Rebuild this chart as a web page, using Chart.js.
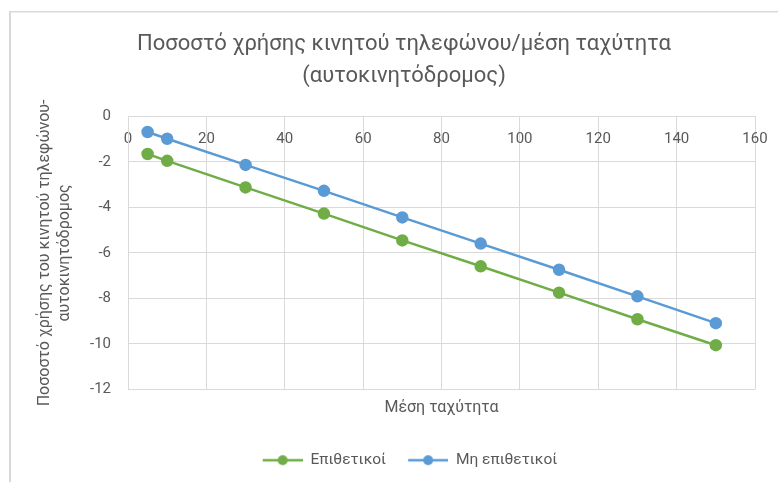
<!DOCTYPE html>
<html>
<head>
<meta charset="utf-8">
<script src="https://cdn.jsdelivr.net/npm/chart.js@4"></script>
<style>
html, body { margin: 0; padding: 0; background: #fff; overflow: hidden; }
#wrap { width: 778px; height: 482px; position: relative; }
</style>
</head>
<body>
<div id="wrap"><canvas id="myChart" width="778" height="482"></canvas></div>
<script>
// data
var speeds = [5, 10, 30, 50, 70, 90, 110, 130, 150];
var aggressive = [-1.65, -1.95, -3.12, -4.27, -5.45, -6.59, -7.75, -8.92, -10.06];
var nonAggressive = [-0.68, -0.98, -2.13, -3.27, -4.44, -5.59, -6.74, -7.91, -9.09];
var seriesNames = ['Επιθετικοί', 'Μη επιθετικοί'];
var seriesColors = ['#70ad47', '#5b9bd5'];
var xTickValues = [0, 20, 40, 60, 80, 100, 120, 140, 160];
var yTickValues = [0, -2, -4, -6, -8, -10, -12];

var txt = '#595959';
var gridCol = '#d9d9d9';
var fontFam = 'Roboto, "Liberation Sans", sans-serif';

function points(ys) {
    return speeds.map(function (s, i) { return { x: s, y: ys[i] }; });
}

// excel-like legend marker: short line with a dot
function markerImage(color) {
    var c = document.createElement('canvas');
    c.width = 52; c.height = 14;
    var g = c.getContext('2d');
    g.strokeStyle = color;
    g.lineWidth = 2.5;
    g.beginPath(); g.moveTo(12, 7); g.lineTo(52, 7); g.stroke();
    g.fillStyle = color;
    g.beginPath(); g.arc(32, 7, 5, 0, Math.PI * 2); g.fill();
    return c;
}

function noSidePad(s) { s.paddingLeft = 0; s.paddingRight = 0; }

var outerBorder = {
    id: 'outerBorder',
    beforeDraw: function (chart) {
        var c = chart.ctx;
        c.save();
        c.fillStyle = gridCol;
        c.fillRect(9, 11, 2, 482);
        c.fillRect(9, 11, 778, 1.5);
        c.restore();
    }
};

var ctx = document.getElementById('myChart').getContext('2d');
var myChart = new Chart(ctx, {
    type: 'line',
    data: {
        datasets: [{
            label: seriesNames[0],
            data: points(aggressive),
            borderColor: seriesColors[0],
            backgroundColor: seriesColors[0],
            borderWidth: 2.5,
            pointRadius: 5,
            pointHoverRadius: 5,
            tension: 0
        }, {
            label: seriesNames[1],
            data: points(nonAggressive),
            borderColor: seriesColors[1],
            backgroundColor: seriesColors[1],
            borderWidth: 2.5,
            pointRadius: 5,
            pointHoverRadius: 5,
            tension: 0
        }]
    },
    options: {
        responsive: false,
        animation: false,
        layout: { padding: { left: 30, right: 0, top: 11, bottom: 4 } },
        plugins: {
            title: {
                display: true,
                text: ['Ποσοστό χρήσης κινητού τηλεφώνου/μέση ταχύτητα', '(αυτοκινητόδρομος)'],
                color: txt,
                font: { family: fontFam, size: 22, weight: 'normal', lineHeight: 1.4545 },
                padding: { top: 18, bottom: 23.5 }
            },
            legend: {
                position: 'bottom',
                labels: {
                    usePointStyle: true,
                    pointStyleWidth: 52,
                    color: txt,
                    padding: 10,
                    font: { family: fontFam, size: 15.5 },
                    generateLabels: function (chart) {
                        var items = Chart.defaults.plugins.legend.labels.generateLabels(chart);
                        items.forEach(function (it, i) { it.pointStyle = markerImage(seriesColors[i]); });
                        return items;
                    }
                }
            },
            tooltip: { enabled: false }
        },
        scales: {
            x: {
                type: 'linear',
                position: { y: 0 },
                min: 0,
                max: 160,
                afterBuildTicks: function (s) { s.ticks = xTickValues.map(function (v) { return { value: v }; }); },
                afterFit: noSidePad,
                grid: { color: gridCol, drawTicks: false },
                border: { color: gridCol },
                ticks: { color: txt, padding: 14, font: { family: fontFam, size: 15 } }
            },
            x2: {
                type: 'linear',
                position: 'bottom',
                afterFit: noSidePad,
                grid: { display: false, drawTicks: false },
                border: { display: false },
                ticks: { display: false },
                title: {
                    display: true,
                    text: 'Μέση ταχύτητα',
                    color: txt,
                    font: { family: fontFam, size: 16 },
                    padding: { top: 9, bottom: 25 }
                }
            },
            y: {
                min: -12,
                max: 0,
                afterBuildTicks: function (s) { s.ticks = yTickValues.map(function (v) { return { value: v }; }); },
                afterFit: function (s) { s.width = 98; },
                grid: { color: gridCol, drawTicks: false },
                border: { color: gridCol },
                ticks: { color: txt, padding: 17, font: { family: fontFam, size: 15 } },
                title: {
                    display: true,
                    text: ['Ποσοστό χρήσης του κινητού τηλεφώνου-', 'αυτοκινητόδρομος'],
                    color: txt,
                    font: { family: fontFam, size: 16, lineHeight: 1.25 },
                    padding: { top: 5, bottom: 0 }
                }
            },
            y2: {
                position: 'right',
                afterFit: function (s) { s.width = 23; },
                grid: { display: false, drawTicks: false },
                border: { display: false },
                ticks: { display: false }
            }
        }
    },
    plugins: [outerBorder]
});
</script>
</body>
</html>
